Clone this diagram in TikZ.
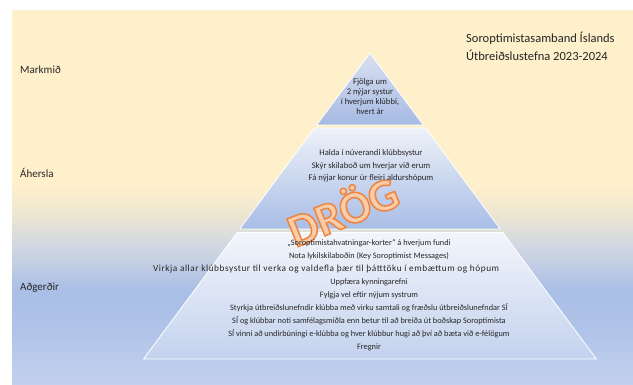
\documentclass[tikz,border=0pt]{standalone}
\usepackage{fontspec}
\setmainfont{Carlito}
\definecolor{cream}{HTML}{FFF0CC}
\definecolor{bgB}{HTML}{C3D1EE}
\definecolor{bgC}{HTML}{B0C3E8}
\definecolor{bgD}{HTML}{AABFE6}
\definecolor{bgE}{HTML}{D2D8E1}
\definecolor{bgF}{HTML}{ECE6D2}
\definecolor{txt}{HTML}{262626}
\definecolor{drogfill}{HTML}{F9CCAA}
\pgfdeclareverticalshading{bgshade}{100bp}{color(0bp)=(bgB); color(25bp)=(bgB); color(32.4bp)=(bgC); color(37.7bp)=(bgD); color(43.7bp)=(bgE); color(47.7bp)=(bgF); color(51.7bp)=(cream); color(100bp)=(cream)}
\newcommand{\outlinedtext}[1]{\textcolor{drogfill}{\special{pdf:literal direct 0.93 0.52 0.25 RG 2 Tr 1.5 w}#1\special{pdf:literal direct 0 Tr}}}
\tikzset{
  tier/.style={draw=white, line width=0.8pt},
  tiertext/.style={align=center, inner sep=0pt, text=txt},
  sidelabel/.style={anchor=west, inner sep=0pt, text=txt, font=\fontsize{11}{13}\selectfont},
}
\begin{document}
\begin{tikzpicture}[x=1pt,y=-1pt]
\useasboundingbox (0,0) rectangle (633,385);
\fill[white] (0,0) rectangle (633,385);
\shade[shading=bgshade] (12,11) rectangle (633,385);
% pyramid tiers
\path[tier, top color={rgb,255:red,218;green,224;blue,240}, bottom color={rgb,255:red,166;green,186;blue,227}]
  (370,53) -- (423.3,125) -- (316.7,125) -- cycle;
\path[tier, top color={rgb,255:red,238;green,241;blue,248}, bottom color={rgb,255:red,168;green,189;blue,230}]
  (314.5,128) -- (425.5,128) -- (500.2,229) -- (239.8,229) -- cycle;
\path[tier, top color={rgb,255:red,242;green,245;blue,251}, bottom color={rgb,255:red,196;green,210;blue,238}]
  (237.2,232.5) -- (502.8,232.5) -- (596.4,359) -- (143.6,359) -- cycle;
% watermark
\node[rotate=22, inner sep=0pt] (drog) at (342,209)
  {\fontsize{46}{46}\selectfont\bfseries\outlinedtext{DRÖG}};
% texts
\node[tiertext, font=\fontsize{8.6}{10}\selectfont] (t1) at (370,97)
  {Fjölga um\\2 nýjar systur\\í hverjum  klúbbi,\\hvert  ár};
\node[tiertext, font=\fontsize{8.6}{12.5}\selectfont] (t2) at (371,166)
  {Halda í núverandi klúbbsystur\\Skýr skilaboð um hverjar við erum\\Fá nýjar konur  úr fleiri aldurshópum};
\node[tiertext, font=\fontsize{8.3}{13}\selectfont] (t3) at (369,295.5)
  {„Soroptimistahvatningar-korter“  á hverjum  fundi\\
   Nota lykilskilaboðin (Key Soroptimist Messages)\\
   \makebox[432pt][l]{\fontsize{9.3}{13}\selectfont\addfontfeature{LetterSpace=6}Virkja allar klúbbsystur til verka og valdefla þær til þátttöku í embættum  og hópum}\\
   Uppfæra kynningarefni\\
   Fylgja vel eftir nýjum systrum\\
   Styrkja  útbreiðslunefndir  klúbba með virku samtali og fræðslu útbreiðslunefndar  SÍ\\
   SÍ og klúbbar noti samfélagsmiðla enn betur til að breiða út boðskap Soroptimista\\
   SÍ vinni að undirbúningi e-klúbba og hver klúbbur hugi að því að bæta við e-félögum\\
   Fregnir};
\node[sidelabel] (l1) at (20,70) {Markmið};
\node[sidelabel] (l2) at (20,173) {Áhersla};
\node[sidelabel] (l3) at (20,288) {Aðgerðir};
\node[anchor=west, align=left, inner sep=0pt, text=txt, font=\fontsize{12.5}{18}\selectfont] (title) at (466,46)
  {Soroptimistasamband Íslands\\Útbreiðslustefna 2023-2024};
\end{tikzpicture}
\end{document}
